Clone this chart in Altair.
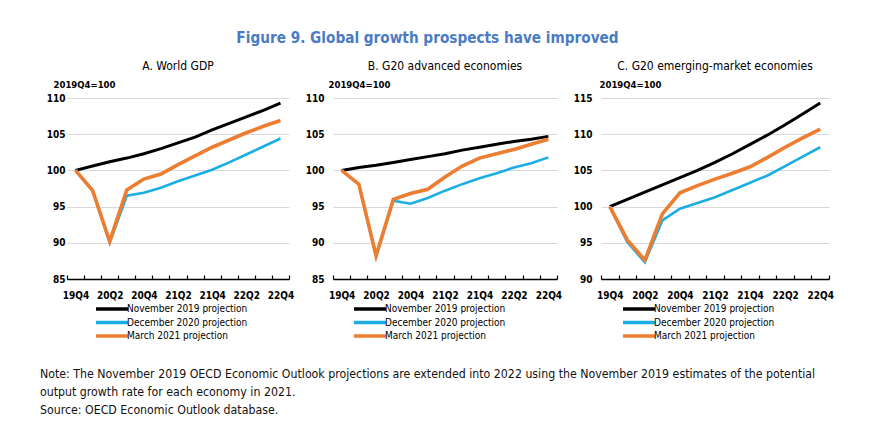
import altair as alt
import pandas as pd

quarters = ["19Q4", "20Q1", "20Q2", "20Q3", "20Q4", "21Q1", "21Q2",
            "21Q3", "21Q4", "22Q1", "22Q2", "22Q3", "22Q4"]
label_quarters = quarters[::2]

series_names = ["November 2019 projection", "December 2020 projection", "March 2021 projection"]
series_colors = ["#000000", "#1aaee5", "#ed7d31"]
series_widths = [3.0, 2.6, 3.6]

# Panel A: World GDP
a_nov = [100.0, 100.6, 101.2, 101.7, 102.3, 103.0, 103.8, 104.6, 105.6, 106.5, 107.4, 108.3, 109.3]
a_dec = [100.0, 97.3, 90.0, 96.5, 96.9, 97.6, 98.5, 99.3, 100.1, 101.1, 102.2, 103.3, 104.4]
a_mar = [100.0, 97.2, 90.2, 97.3, 98.8, 99.5, 100.8, 102.0, 103.2, 104.2, 105.2, 106.1, 106.9]

# Panel B: G20 advanced economies
b_nov = [100.0, 100.4, 100.7, 101.1, 101.5, 101.9, 102.3, 102.8, 103.2, 103.6, 104.0, 104.3, 104.7]
b_dec = [100.0, 98.1, 88.2, 95.8, 95.4, 96.2, 97.2, 98.1, 98.9, 99.6, 100.4, 101.0, 101.8]
b_mar = [100.0, 98.1, 88.2, 96.0, 96.8, 97.4, 99.1, 100.6, 101.7, 102.3, 102.9, 103.6, 104.3]

# Panel C: G20 emerging-market economies
c_nov = [100.0, 101.0, 102.0, 103.0, 104.0, 105.0, 106.1, 107.3, 108.6, 109.9, 111.3, 112.8, 114.3]
c_dec = [100.0, 95.1, 92.3, 98.1, 99.7, 100.5, 101.3, 102.3, 103.3, 104.3, 105.6, 106.9, 108.2]
c_mar = [100.0, 95.4, 92.6, 99.0, 101.9, 102.9, 103.8, 104.6, 105.5, 106.8, 108.2, 109.5, 110.7]

panel_titles = ["A. World GDP", "B. G20 advanced economies", "C. G20 emerging-market economies"]
y_domains = [[85, 110], [85, 110], [90, 115]]
unit_label = "2019Q4=100"

main_title = "Figure 9. Global growth prospects have improved"
note_lines = [
    "Note: The November 2019 OECD Economic Outlook projections are extended into 2022 using the November 2019 estimates of the potential",
    "output growth rate for each economy in 2021.",
    "Source: OECD Economic Outlook database.",
]

FONT = "'Liberation Sans Narrow', 'DejaVu Sans Condensed', 'Liberation Sans', sans-serif"


def make_panel(title, nov, dec, mar, ydomain, width, lab_pad, unit_x, legend_x):
    rows = []
    for s, vals in zip(series_names, [nov, dec, mar]):
        for q, v in zip(quarters, vals):
            rows.append({"quarter": q, "series": s, "value": v})
    df = pd.DataFrame(rows)
    label_expr = ("indexof([" + ",".join(f"'{q}'" for q in label_quarters)
                  + "], datum.value) >= 0 ? datum.value : ''")
    x = alt.X(
        "quarter:O", sort=quarters, bandPosition=0.5,
        scale=alt.Scale(type="band", paddingInner=0, paddingOuter=0),
        axis=alt.Axis(title=None, labelExpr=label_expr, labelAngle=0, tickBand="extent",
                      domainColor="black", domainWidth=1.5, tickColor="black", tickWidth=1.2,
                      tickSize={"expr": "-4"}, labelPadding=15, grid=False,
                      labelFont=FONT, labelFontWeight="bold", labelFontSize=10,
                      labelColor="black"),
    )
    y = alt.Y(
        "value:Q",
        scale=alt.Scale(domain=ydomain, nice=False, zero=False),
        axis=alt.Axis(values=list(range(ydomain[0], ydomain[1] + 1, 5)),
                      title=unit_label, titleAngle=0, titleAlign="left",
                      titleBaseline="alphabetic", titleX=unit_x, titleY=-11,
                      titleFont=FONT, titleFontSize=9.5, titleFontWeight="bold",
                      titleColor="black",
                      domain=False, ticks=False, gridColor="#d9d9d9", gridWidth=1,
                      labelFont=FONT, labelFontWeight="bold", labelFontSize=10,
                      labelColor="black", labelPadding=lab_pad),
    )
    color = alt.Color(
        "series:N",
        scale=alt.Scale(domain=series_names, range=series_colors),
        sort=series_names,
        legend=alt.Legend(title=None, orient="none", legendX=legend_x, legendY=24 + 181,
                          direction="vertical", symbolType="M-4,0L4,0", symbolSize=64,
                          symbolStrokeWidth=3.5, symbolOffset=12,
                          labelFont=FONT, labelFontSize=10,
                          labelColor="black", labelOffset=9, rowPadding=-0.5),
    )
    layers = []
    for s, w in zip(series_names, series_widths):
        layers.append(
            alt.Chart(df)
            .transform_filter(alt.datum.series == s)
            .mark_line(strokeWidth=w)
            .encode(x=x, y=y, color=color)
        )
    return alt.layer(*layers).properties(
        width=width, height=181,
        title=alt.TitleParams(title, font=FONT, fontSize=12, fontWeight="normal",
                              color="black", anchor="middle", offset=6),
    )


pA = make_panel(panel_titles[0], a_nov, a_dec, a_mar, y_domains[0], 222, 2, -14, 27)
pB = make_panel(panel_titles[1], b_nov, b_dec, b_mar, y_domains[1], 224, 9, -5, 19)
pC = make_panel(panel_titles[2], c_nov, c_dec, c_mar, y_domains[2], 228, 9, -2, 20)

top = alt.hconcat(pA, pB, pC, spacing=11).resolve_scale(
    x="independent", y="independent", color="independent"
)

note_df = pd.DataFrame({"i": list(range(len(note_lines))), "line": note_lines})
note = (
    alt.Chart(note_df)
    .mark_text(align="left", baseline="middle", font=FONT, fontSize=12.25, color="#111111")
    .encode(
        y=alt.Y("i:O", axis=None, bandPosition=0.5,
                scale=alt.Scale(paddingInner=0, paddingOuter=0)),
        x=alt.value(-27),
        text="line:N",
    )
    .properties(width=790, height=54)
)

chart = (
    alt.vconcat(top, note, spacing=22)
    .properties(
        title=alt.TitleParams(main_title, font=FONT, fontSize=15.2, fontWeight="bold",
                              color="#4a7bc4", anchor="middle", offset=14, dx=-21),
        padding={"left": 32, "top": 22, "right": 5, "bottom": 5},
    )
    .configure_view(stroke=None)
)

chart.save("out.html", embed_options={"renderer": "svg", "actions": False})
